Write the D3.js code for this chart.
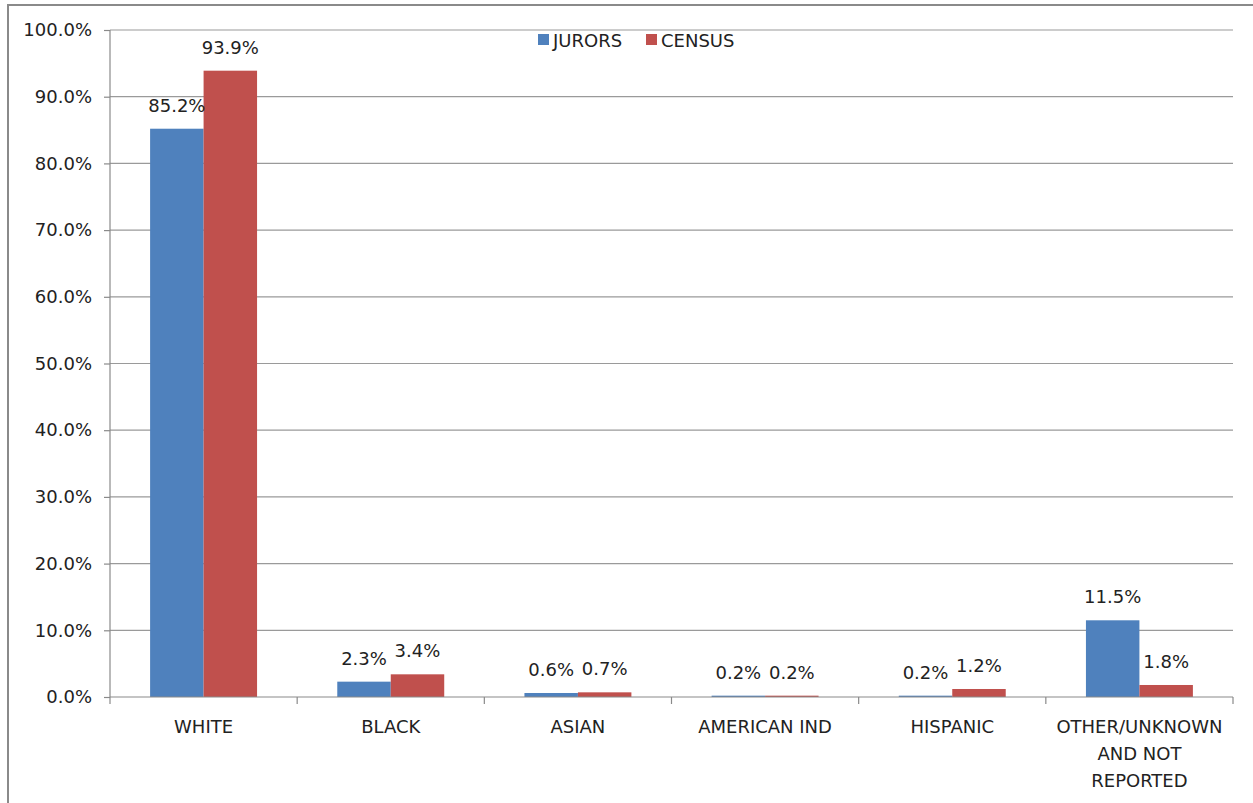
<!DOCTYPE html>
<html><head><meta charset="utf-8">
<script src="https://cdn.jsdelivr.net/npm/d3@7"></script>
<style>html,body{margin:0;padding:0;background:#fff;overflow:hidden}</style>
</head><body>
<svg id="c" width="1253" height="803"></svg>
<script>
const categories = ["WHITE", "BLACK", "ASIAN", "AMERICAN IND", "HISPANIC", "OTHER/UNKNOWN|AND NOT|REPORTED"];
const seriesNames = ["JURORS", "CENSUS"];
const jurors = [85.2, 2.3, 0.6, 0.2, 0.2, 11.5];
const census = [93.9, 3.4, 0.7, 0.2, 1.2, 1.8];
const yTicks = [0, 10, 20, 30, 40, 50, 60, 70, 80, 90, 100];
const colors = ["#4F81BD", "#C0504D"];

(function () {
const svg = d3.select("#c");
const font = "DejaVu Sans, sans-serif";
const pLeft = 110, pRight = 1233, pTop = 30, pBottom = 697;

// outer border
svg.append("rect").attr("x", 8).attr("y", 5).attr("width", 1300).attr("height", 900)
  .attr("fill", "none").attr("stroke", "#8a8a8a").attr("stroke-width", 2);

const x = d3.scaleBand().domain(categories).range([pLeft, pRight]).paddingInner(0).paddingOuter(0);
const x1 = d3.scaleBand().domain(seriesNames).range([0, x.bandwidth()]).paddingInner(0).paddingOuter(0.75);
const y = d3.scaleLinear().domain([0, 100]).range([pBottom, pTop]);

// gridlines
svg.append("g").selectAll("line").data(yTicks.filter(d => d > 0)).join("line")
  .attr("x1", pLeft).attr("x2", pRight).attr("y1", d => y(d)).attr("y2", d => y(d))
  .attr("stroke", "#9a9a9a").attr("stroke-width", 1.2);

// y axis
const ya = svg.append("g").attr("transform", `translate(${pLeft},0)`)
  .call(d3.axisLeft(y).tickValues(yTicks).tickSize(6).tickFormat(d => d.toFixed(1) + "%"));
ya.select(".domain").attr("stroke", "#8a8a8a").attr("stroke-width", 1.2).attr("d", `M0,${pTop}V${pBottom}`);
ya.selectAll(".tick line").attr("stroke", "#8a8a8a").attr("stroke-width", 1.2);
ya.selectAll(".tick text").attr("font-family", font).attr("font-size", 18).attr("fill", "#222").attr("x", -18);

// bars
const data = categories.map((c, i) => ({c, vals: [jurors[i], census[i]]}));
const groups = svg.append("g").selectAll("g").data(data).join("g")
  .attr("transform", d => `translate(${x(d.c)},0)`);
groups.selectAll("rect").data(d => d.vals.map((v, j) => ({v, s: seriesNames[j], j}))).join("rect")
  .attr("x", d => x1(d.s)).attr("width", x1.bandwidth())
  .attr("y", d => y(d.v)).attr("height", d => y(0) - y(d.v))
  .attr("fill", d => colors[d.j]);
groups.selectAll("text").data(d => d.vals.map((v, j) => ({v, s: seriesNames[j], j}))).join("text")
  .attr("x", d => x1(d.s) + x1.bandwidth() / 2).attr("y", d => y(d.v) - 17)
  .attr("text-anchor", "middle").attr("font-family", font).attr("font-size", 18).attr("fill", "#222")
  .text(d => d.v.toFixed(1) + "%");

// x axis
const xa = svg.append("g").attr("transform", `translate(0,${pBottom})`)
  .call(d3.axisBottom(x).tickSize(0).tickFormat(""));
xa.select(".domain").attr("stroke", "#8a8a8a").attr("stroke-width", 1.2).attr("d", `M${pLeft},0H${pRight}`);
const bounds = categories.map(c => x(c)).concat([pRight]);
svg.append("g").selectAll("line").data(bounds).join("line")
  .attr("x1", d => d).attr("x2", d => d).attr("y1", pBottom).attr("y2", pBottom + 7)
  .attr("stroke", "#8a8a8a").attr("stroke-width", 1.2);
const xl = svg.append("g").selectAll("text").data(categories).join("text")
  .attr("x", d => x(d) + x.bandwidth() / 2).attr("y", 733)
  .attr("text-anchor", "middle").attr("font-family", font).attr("font-size", 18).attr("fill", "#222");
xl.each(function(d) {
  const parts = d.split("|");
  d3.select(this).selectAll("tspan").data(parts).join("tspan")
    .attr("x", x(d) + x.bandwidth() / 2).attr("dy", (p, i) => i === 0 ? 0 : 27).text(p => p);
});

// legend
const legend = [{n: seriesNames[0], c: colors[0], x: 538}, {n: seriesNames[1], c: colors[1], x: 646}];
const lg = svg.append("g").selectAll("g").data(legend).join("g");
lg.append("rect").attr("x", d => d.x).attr("y", 34).attr("width", 11).attr("height", 11).attr("fill", d => d.c);
lg.append("text").attr("x", d => d.x + 15).attr("y", 47).attr("font-family", font).attr("font-size", 18)
  .attr("fill", "#222").text(d => d.n);
})();
</script>
</body></html>
